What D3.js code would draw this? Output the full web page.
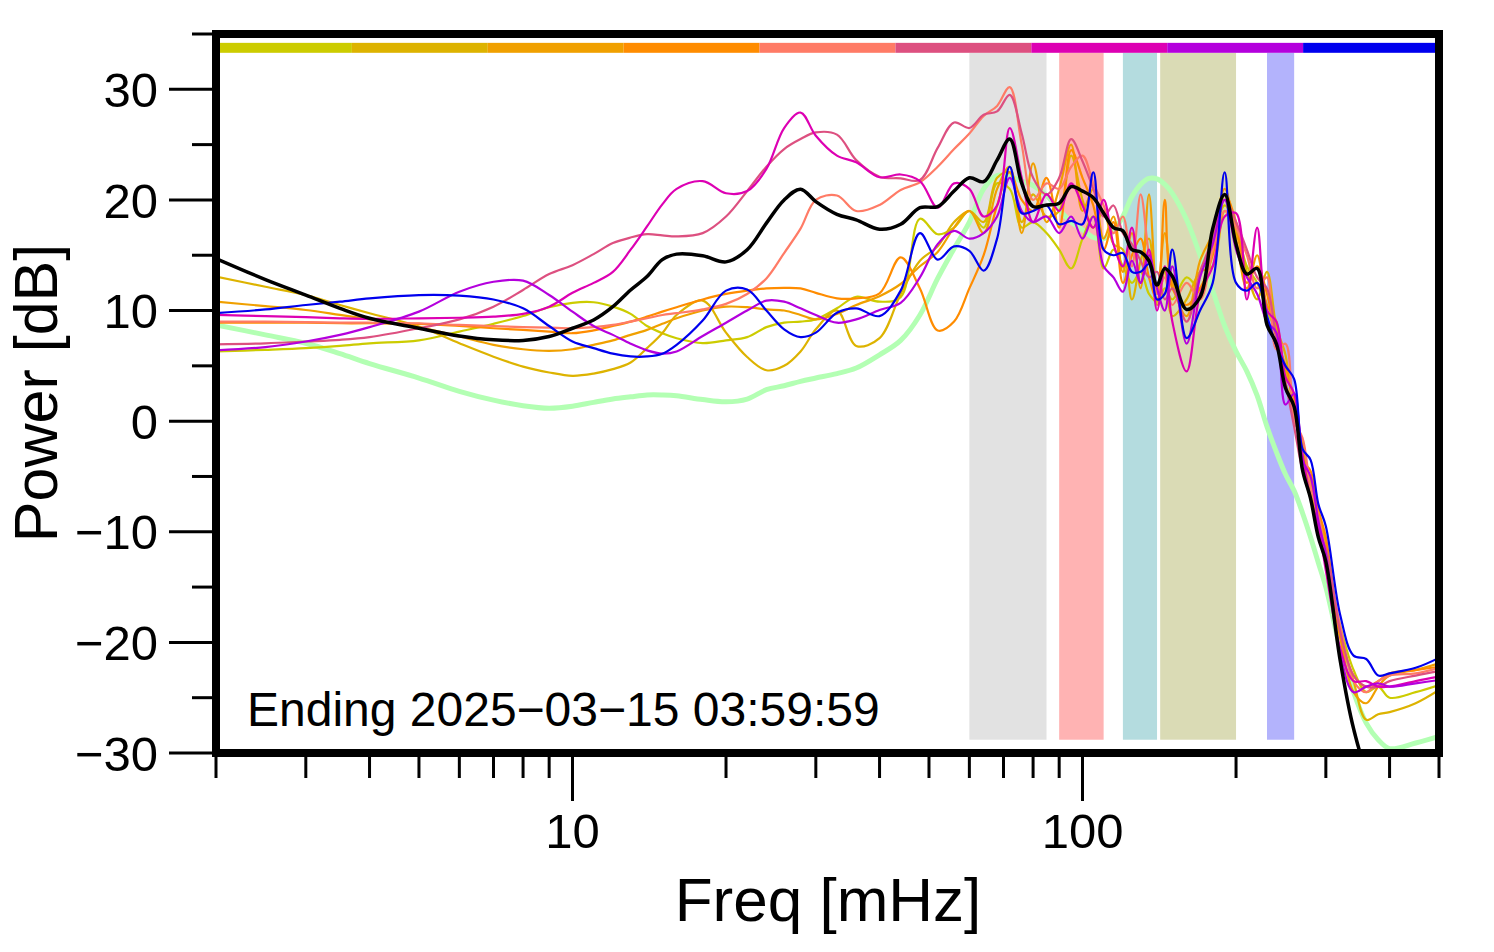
<!DOCTYPE html>
<html><head><meta charset="utf-8">
<script src="https://cdn.jsdelivr.net/npm/d3@7/dist/d3.min.js"></script>
<style>
body{margin:0;background:#fff;}
svg{display:block;}
text{font-family:"Liberation Sans",Arial,Helvetica,sans-serif;fill:#000;}
</style>
</head><body>
<svg id="chart" width="1494" height="952"></svg>
<script>
// ---------------- DATA ----------------
const freqs = [2,2.5,3,3.5,4,5,6,7,8,9,
  10,11,12,13,14,15,16,18,20,22,
  24,26,28,30,33,36,40,44,48,52,
  56,60,64,68,72,76,80,85,90,95,
  100,105,110,115,120,125,130,135,140,145,
  150,160,170,180,190,200,210,220,230,240,
  250,260,270,280,290,300,320,340,360,380,
  400,450,500];

const yellowGreen = [6.3,6.45,6.6,6.8,7.04,7.3,8.1,8.8,9.5,10.3,
  10.7,10.75,10.35,9.7,8.6,7.95,7.5,7.05,7.3,7.6,
  8.5,8.9,9.0,9.2,10.2,11.25,10.8,11.2,18.3,16.9,
  17.5,19.0,17.5,21.5,21.0,17.5,18.0,17.0,15.5,13.8,
  16.5,18.5,13.8,15.5,14.0,12.5,13.5,11.5,10.8,12.0,
  11.0,13.0,12.0,16.0,19.5,17.5,14.0,12.5,10.0,8.0,
  4.5,2.0,-3.0,-6.0,-9.5,-13.0,-18.5,-22.5,-24.5,-24.0,
  -25.0,-24.5,-23.85];

const gold = [13.07,12.15,11.4,10.5,9.76,8.55,7.04,5.83,4.93,4.4,
  4.1,4.3,4.7,5.3,6.6,7.95,9.6,10.9,8.0,5.8,
  4.6,5.0,6.3,8.3,10.0,6.8,7.5,11.5,14.5,15.8,
  18.0,19.0,18.0,22.0,22.5,18.0,20.5,18.5,19.0,24.0,
  20.0,17.5,19.0,16.0,15.5,11.0,14.5,16.5,10.5,13.5,
  9.5,11.0,13.5,14.0,19.0,17.0,13.5,11.0,13.5,8.5,
  6.0,0.5,-2.0,-6.5,-8.5,-11.0,-19.0,-23.5,-27.0,-26.5,
  -26.3,-25.5,-24.3];

const orange = [10.8,10.4,10.05,9.6,9.2,8.5,7.65,6.9,6.5,6.36,
  6.5,6.9,7.3,7.8,8.25,8.8,9.3,10.0,10.35,10.3,
  10.1,10.0,9.6,9.2,9.7,10.5,11.3,12.4,14.0,15.3,
  17.5,19.0,17.0,21.0,23.0,17.0,23.3,18.0,21.0,25.0,
  19.0,21.0,16.5,18.5,13.5,17.0,12.0,20.5,11.5,17.0,
  12.5,9.5,14.5,17.0,21.0,16.5,12.0,15.0,10.5,9.0,
  3.5,1.0,-3.0,-5.5,-9.0,-12.0,-19.5,-24.5,-25.5,-24.0,
  -23.0,-22.5,-21.9];

const darkOrange = [8.9,8.9,8.9,8.85,8.85,8.8,8.6,8.4,8.25,8.1,
  7.95,8.2,8.6,9.0,9.45,9.9,10.3,11.0,11.5,11.8,
  12.0,12.05,12.0,11.6,11.1,11.1,11.56,14.8,12.0,8.2,
  9.0,12.0,15.0,19.5,22.5,20.0,19.0,22.0,17.5,24.5,
  22.0,19.5,15.5,18.0,12.5,15.0,16.5,13.0,11.0,20.0,
  12.0,10.5,12.0,15.0,20.5,18.0,12.5,14.0,11.5,7.5,
  5.0,2.0,-3.5,-4.5,-8.0,-10.5,-19.5,-23.0,-24.0,-23.5,
  -22.8,-22.5,-22.2];

const salmon = [9.0,9.0,8.95,8.9,8.9,8.85,8.7,8.6,8.5,8.45,
  8.4,8.5,8.7,9.0,9.3,9.6,9.76,10.1,10.6,11.5,
  12.9,15.2,17.4,20.0,20.4,19.0,19.55,20.9,21.6,23.0,
  24.6,26.0,27.6,28.5,30.2,25.0,20.0,21.5,21.0,23.0,
  24.0,21.5,19.5,17.0,18.5,14.0,20.5,15.0,11.5,13.0,
  10.5,12.5,11.0,15.5,19.0,17.5,15.0,12.0,13.0,6.5,
  7.0,0.0,-1.5,-6.0,-8.5,-12.0,-18.5,-23.5,-24.5,-23.5,
  -23.0,-22.8,-22.3];

const pink = [6.95,7.04,7.2,7.35,7.6,8.4,9.2,10.35,11.86,13.3,
  14.1,15.1,16.1,16.6,16.9,16.8,16.7,17.0,18.5,20.8,
  23.0,24.6,25.5,26.1,25.9,23.6,22.1,21.95,21.8,24.7,
  27.0,26.5,27.7,28.0,29.5,26.0,22.0,20.5,22.0,25.5,
  23.5,21.0,18.5,19.5,17.0,16.0,14.5,13.0,13.5,11.0,
  12.0,9.0,13.5,16.5,20.0,18.0,15.5,13.0,12.0,7.5,
  3.5,-0.5,-4.5,-7.0,-10.0,-11.5,-19.0,-23.0,-24.0,-24.0,
  -23.5,-23.0,-22.6];

const magenta = [9.6,9.5,9.4,9.3,9.25,9.3,9.35,9.45,9.7,10.35,
  11.6,12.5,13.5,15.5,17.6,19.6,21.0,21.7,20.6,20.8,
  22.8,26.5,27.9,25.8,24.0,23.4,22.05,22.3,21.7,19.3,
  21.5,21.0,18.5,19.5,26.5,22.0,18.0,20.5,19.0,21.5,
  19.5,17.5,20.0,16.0,14.0,17.5,12.5,15.5,10.0,14.0,
  9.0,4.5,11.5,14.0,18.5,18.8,11.0,17.5,10.0,9.0,
  4.0,2.5,-3.0,-7.0,-9.5,-13.5,-20.5,-23.5,-23.5,-24.0,
  -24.0,-23.5,-23.1];

const purple = [6.4,6.7,7.2,7.8,8.5,9.9,11.7,12.6,12.7,11.4,
  9.9,8.6,7.8,7.0,6.4,6.1,6.3,7.7,8.9,10.0,
  10.9,10.8,10.2,9.6,8.9,9.2,10.05,10.7,13.0,16.0,
  17.2,16.5,17.0,18.5,22.0,19.0,18.0,18.5,17.0,18.5,
  16.5,18.5,14.0,13.0,11.7,14.5,12.5,15.0,12.0,10.0,
  14.0,7.0,13.0,16.0,20.0,15.5,13.0,11.5,9.0,8.0,
  1.5,2.5,-3.5,-5.0,-9.0,-12.0,-21.0,-24.5,-24.0,-23.7,
  -24.0,-23.7,-23.4];

const blue = [9.76,10.1,10.5,10.8,11.1,11.4,11.35,11.0,10.2,8.6,
  7.2,6.6,6.1,5.85,5.85,6.1,6.9,9.1,11.8,11.9,
  10.0,8.3,7.6,8.0,9.8,10.2,9.5,11.8,17.0,14.6,
  15.8,15.4,13.6,16.5,23.0,18.8,19.0,19.5,17.8,18.1,
  17.8,22.5,15.5,15.0,15.2,13.5,13.5,14.2,11.0,11.5,
  15.5,7.5,10.0,12.5,22.5,12.5,11.8,12.5,9.5,6.8,
  5.0,3.8,-2.5,-3.5,-7.5,-9.5,-17.5,-21.2,-21.5,-23.0,
  -22.8,-22.3,-21.4];

const meanPower = [14.7,12.8,11.4,10.2,9.3,8.4,7.7,7.35,7.3,7.65,
  8.4,9.15,10.35,11.86,13.07,14.6,15.1,14.95,14.4,15.5,
  17.9,20.0,20.97,19.85,18.7,18.2,17.35,17.8,19.3,19.4,
  20.8,22.0,21.65,23.6,25.5,21.5,19.4,19.55,19.7,21.2,
  20.8,20.2,18.8,17.5,17.2,15.5,15.3,14.5,12.3,13.8,
  13.1,10.1,11.2,17.4,20.5,16.0,13.3,13.8,8.7,7.0,
  3.0,1.3,-4.4,-7.0,-10.5,-12.7,-21.6,-27.8,-31.5,-33,
  -34,-35,-35];

const modelPower = [8.7,7.8,7.04,6.1,5.2,3.9,2.7,1.9,1.4,1.17,
  1.35,1.7,2.0,2.2,2.37,2.37,2.3,1.95,1.75,2.0,
  2.85,3.2,3.6,3.9,4.3,4.8,6.0,7.3,9.6,12.9,
  15.6,18.0,21.0,22.2,22.1,21.7,21.3,20.4,19.1,18.0,
  17.3,16.6,16.5,17.2,18.5,20.3,21.4,21.95,21.9,21.4,
  20.6,18.2,15.0,11.8,8.6,6.3,4.5,2.3,-0.5,-2.8,
  -4.8,-6.3,-8.3,-10.5,-12.8,-15.0,-20.5,-24.5,-27.3,-28.8,
  -29.6,-29.1,-28.5];

const seriesValues = [yellowGreen, gold, orange, darkOrange, salmon, pink, magenta, purple, blue];
const seriesColors = ["#cccc00","#ddb300","#f0a000","#ff8c00","#ff7b66","#dd5080","#dd00b3","#b400dd","#0000ee"];

const bandRanges = [[60,85],[90,110],[120,140],[142,200],[230,260]];
const bandColors = ["#e2e2e2","#ffb3b3","#b4dcdf","#dadbb5","#b3b3fc"];

const yMajorTicks = [-30,-20,-10,0,10,20,30];
const yMinorTicks = [-25,-15,-5,5,15,25,35];
const xMajorTicks = [10,100];
const xMinorTicks = [2,3,4,5,6,7,8,9,20,30,40,50,60,70,80,90,200,300,400,500];
const xLabel = "Freq [mHz]";
const yLabel = "Power [dB]";
const annotation = "Ending 2025\u221203\u221215 03:59:59";

// ---------------- CHART ----------------
const svg = d3.select("#chart");
const L = 216, R = 1439, T = 34, B = 753;
const x = d3.scaleLog().domain([2, 500]).range([L, R]);
const y = d3.scaleLinear().domain([-30, 35]).range([B, T]);

svg.append("defs").append("clipPath").attr("id","clip")
  .append("rect").attr("x",L).attr("y",T).attr("width",R-L).attr("height",B-T);

const plot = svg.append("g").attr("clip-path","url(#clip)");

// bands
plot.selectAll("rect.band").data(bandRanges).join("rect")
  .attr("class","band")
  .attr("x", d => x(d[0]))
  .attr("width", d => x(d[1]) - x(d[0]))
  .attr("y", y(33.3))
  .attr("height", y(-28.8) - y(33.3))
  .attr("fill", (d,i) => bandColors[i]);

// color bar (equal log segments)
const nSeg = seriesColors.length;
const segEdges = d3.range(nSeg + 1).map(k => 2 * Math.pow(250, k / nSeg));
plot.selectAll("rect.seg").data(seriesColors).join("rect")
  .attr("class","seg")
  .attr("x", (c,i) => x(segEdges[i]))
  .attr("width", (c,i) => x(segEdges[i+1]) - x(segEdges[i]))
  .attr("y", y(34.2))
  .attr("height", y(33.3) - y(34.2))
  .attr("fill", c => c);

const line = d3.line()
  .x((d,i) => x(freqs[i]))
  .y(d => y(d))
  .curve(d3.curveCatmullRom.alpha(0.5));

// model (light green)
plot.append("path").datum(modelPower)
  .attr("d", line).attr("fill","none")
  .attr("stroke","#b3ffb3").attr("stroke-width",5).attr("stroke-linejoin","round");

// individual series
seriesValues.forEach((vals, i) => {
  plot.append("path").datum(vals)
    .attr("d", line).attr("fill","none")
    .attr("stroke", seriesColors[i]).attr("stroke-width",2.2)
    .attr("stroke-linejoin","round");
});

// mean (black)
plot.append("path").datum(meanPower)
  .attr("d", line).attr("fill","none")
  .attr("stroke","#000").attr("stroke-width",3.5).attr("stroke-linejoin","round");

// frame
svg.append("rect").attr("x",L).attr("y",T).attr("width",R-L).attr("height",B-T)
  .attr("fill","none").attr("stroke","#000").attr("stroke-width",8);

// y ticks
const gy = svg.append("g");
gy.selectAll("line.maj").data(yMajorTicks).join("line")
  .attr("x1", L-47).attr("x2", L).attr("y1", d=>y(d)).attr("y2", d=>y(d))
  .attr("stroke","#000").attr("stroke-width",3);
gy.selectAll("line.min").data(yMinorTicks).join("line")
  .attr("x1", L-24).attr("x2", L).attr("y1", d=>y(d)).attr("y2", d=>y(d))
  .attr("stroke","#000").attr("stroke-width",3);
gy.selectAll("text").data(yMajorTicks).join("text")
  .attr("x", 158).attr("y", d => y(d)).attr("dy","0.36em")
  .attr("text-anchor","end").attr("font-size",49)
  .text(d => d < 0 ? "\u2212" + Math.abs(d) : String(d));

// x ticks
const gx = svg.append("g");
gx.selectAll("line.min").data(xMinorTicks).join("line")
  .attr("x1", d=>x(d)).attr("x2", d=>x(d)).attr("y1", B).attr("y2", B+25)
  .attr("stroke","#000").attr("stroke-width",3);
gx.selectAll("line.maj").data(xMajorTicks).join("line")
  .attr("x1", d=>x(d)).attr("x2", d=>x(d)).attr("y1", B).attr("y2", B+48)
  .attr("stroke","#000").attr("stroke-width",3);
gx.selectAll("text").data(xMajorTicks).join("text")
  .attr("x", d=>x(d)).attr("y", 848)
  .attr("text-anchor","middle").attr("font-size",49)
  .text(d => String(d));

// axis titles
svg.append("text").attr("x", 828).attr("y", 921).attr("text-anchor","middle")
  .attr("font-size",62).text(xLabel);
svg.append("text").attr("transform","translate(57,393) rotate(-90)")
  .attr("text-anchor","middle").attr("font-size",61).text(yLabel);

// annotation
svg.append("text").attr("x", 247).attr("y", 726).attr("font-size",48).text(annotation);
</script>
</body></html>
